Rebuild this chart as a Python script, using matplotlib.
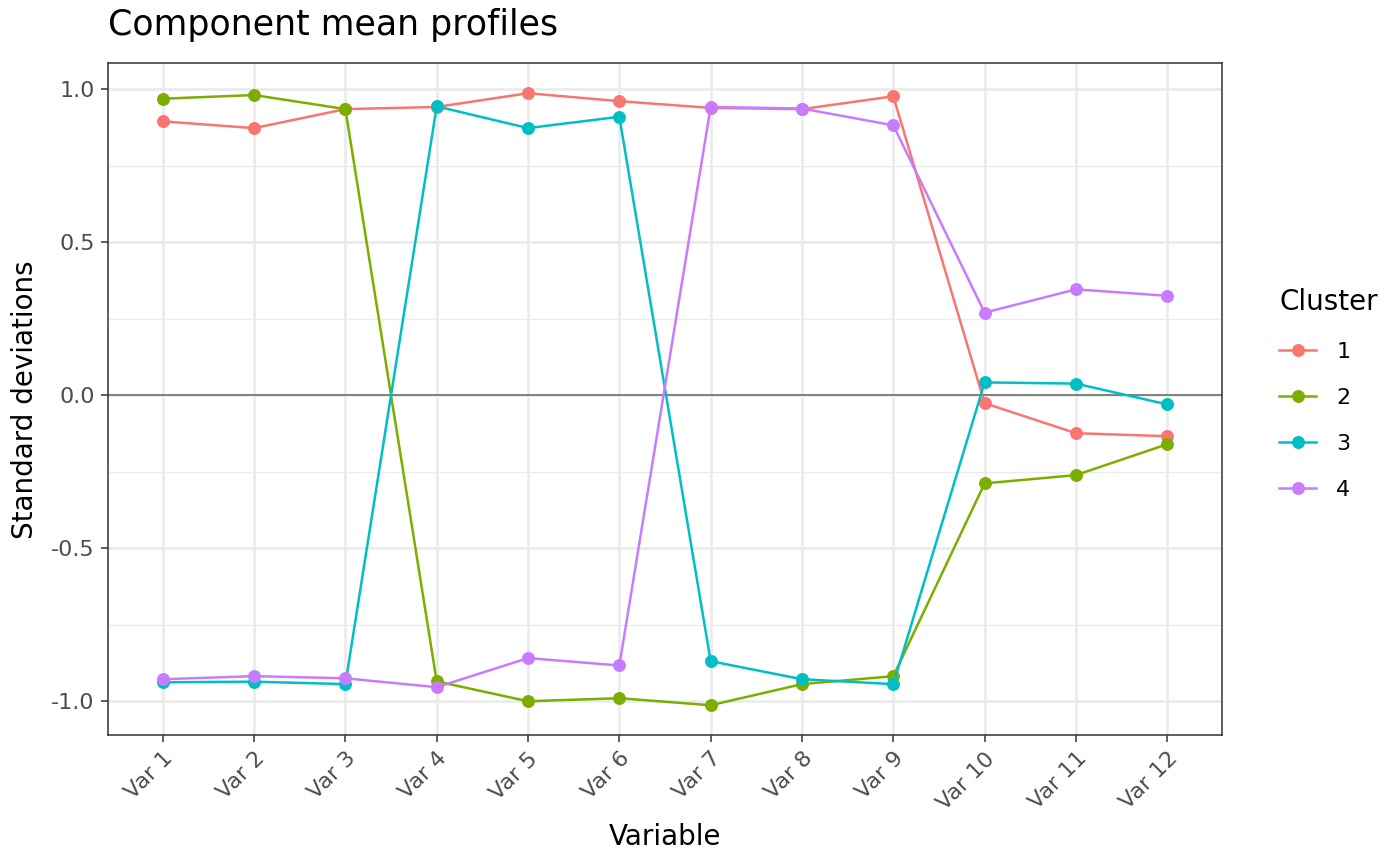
import matplotlib
matplotlib.use("Agg")
import matplotlib.pyplot as plt
from matplotlib.lines import Line2D

variables = [f"Var {i}" for i in range(1, 13)]
cluster_names = ["1", "2", "3", "4"]
c1 = [0.895, 0.873, 0.935, 0.942, 0.987, 0.961, 0.939, 0.935, 0.977, -0.026, -0.124, -0.134]
c2 = [0.969, 0.981, 0.935, -0.935, -1.000, -0.990, -1.013, -0.944, -0.918, -0.288, -0.261, -0.160]
c3 = [-0.938, -0.936, -0.944, 0.944, 0.873, 0.910, -0.869, -0.928, -0.944, 0.042, 0.038, -0.030]
c4 = [-0.928, -0.918, -0.925, -0.954, -0.859, -0.883, 0.942, 0.937, 0.882, 0.270, 0.346, 0.325]
series = [c1, c2, c3, c4]
colors = ["#F8766D", "#7CAE00", "#00BFC4", "#C77CFF"]
yticks = [-1.0, -0.5, 0.0, 0.5, 1.0]
ytick_labels = ["-1.0", "-0.5", "0.0", "0.5", "1.0"]

fig = plt.figure(figsize=(14, 8.66), dpi=100)
ax = fig.add_axes([0.0771, 0.151, 0.7958, 0.776])

x = list(range(len(variables)))
for vals, col in zip(series, colors):
    ax.plot(x, vals, color=col, lw=1.8, marker="o", ms=8.3, zorder=3)

ax.axhline(0, color="#7F7F7F", lw=1.4, zorder=2)

ax.set_xlim(-0.6, 11.6)
ax.set_ylim(-1.111, 1.085)
ax.set_xticks(x)
ax.set_xticklabels(variables, rotation=45, ha="right", va="top", rotation_mode="anchor")
ax.set_yticks(yticks)
ax.set_yticklabels(ytick_labels)
ax.set_yticks([-0.75, -0.25, 0.25, 0.75], minor=True)
ax.grid(True, which="major", color="#EBEBEB", lw=1.9, zorder=0)
ax.grid(True, which="minor", axis="y", color="#EBEBEB", lw=1.0, zorder=0)
ax.set_axisbelow(True)
for s in ax.spines.values():
    s.set_color("#333333")
    s.set_linewidth(1.1)
ax.tick_params(axis="both", which="major", colors="#333333", labelcolor="#4D4D4D",
               labelsize=16, length=5, width=1.1, pad=4.5)
ax.tick_params(axis="y", which="minor", length=0)

ax.set_xlabel("Variable", fontsize=20, va="baseline")
ax.xaxis.set_label_coords(0.5, -0.1637)
ax.set_ylabel("Standard deviations", fontsize=20, va="center")
ax.yaxis.set_label_coords(-0.0745, 0.5)
fig.text(0.0771, 0.9596, "Component mean profiles", fontsize=25, ha="left", va="baseline")

handles = [Line2D([0], [0], color=c, lw=1.8, marker="o", ms=8.3) for c in colors]
leg = fig.legend(handles, cluster_names, title="Cluster", loc="upper left",
                 bbox_to_anchor=(0.8995, 0.690), frameon=False, fontsize=16,
                 title_fontsize=20, handlelength=1.67, labelspacing=1.16,
                 handletextpad=0.9, alignment="left")

fig.savefig("out.png", dpi=100)
